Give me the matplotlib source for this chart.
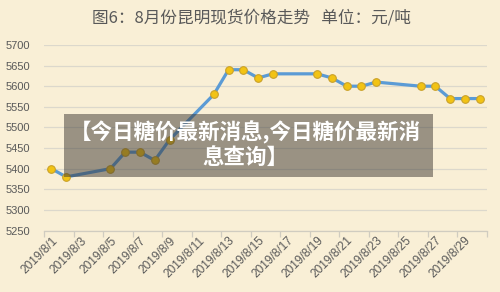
import matplotlib
matplotlib.use("Agg")
import matplotlib.pyplot as plt
from matplotlib.patches import Rectangle
import numpy as np

# ---- data ----
dates = [f"2019/8/{d}" for d in range(1, 31)]
prices = [5400, 5380, None, None, 5400, 5440, 5440, 5420, 5470, None,
          None, 5580, 5640, 5640, 5620, 5630, None, None, 5630, 5620,
          5600, 5600, 5610, None, None, 5600, 5600, 5570, 5570, 5570]
yticks = list(range(5250, 5701, 50))
title = "图6：8月份昆明现货价格走势   单位：元/吨"
overlay_lines = ["【今日糖价最新消息,今日糖价最新消", "息查询】"]

bg = "#f9efd6"
fig = plt.figure(figsize=(5.0, 2.92), dpi=100, facecolor=bg)
ax = fig.add_axes([0.088, 0.2106, 0.886, 0.6354], facecolor=bg)

idx = [i for i, v in enumerate(prices) if v is not None]
vals = [prices[i] for i in idx]
ax.plot(idx, vals, color="#5b9bd5", lw=2.3, solid_joinstyle="round",
        marker="o", ms=5.5, mfc="#f2c314", mec="#caa12a", mew=0.8, zorder=3)

ax.set_xlim(-0.5, len(dates) - 0.5)
ax.set_ylim(yticks[0], yticks[-1])
ax.set_yticks(yticks)
ax.set_yticklabels([str(t) for t in yticks], fontsize=8, color="#595959",
                   family=["Liberation Sans", "DejaVu Sans"])
ax.tick_params(axis="y", length=0, pad=10)
ax.grid(axis="y", color="#dcd8cc", lw=0.9)
ax.set_axisbelow(True)

ax.set_xticks(np.arange(-0.5, len(dates), 2))
ax.set_xticklabels([])
ax.set_xticks(range(0, len(dates), 2), minor=True)
ax.set_xticklabels(dates[::2], minor=True, rotation=45, ha="right", va="top",
                   rotation_mode="anchor", fontsize=8.6, color="#595959",
                   family=["Liberation Sans", "DejaVu Sans"])
ax.tick_params(axis="x", which="major", length=4, color="#d0ccc0", width=0.9)
ax.tick_params(axis="x", which="minor", length=0, pad=3)
for s in ["top", "right", "left"]:
    ax.spines[s].set_visible(False)
ax.spines["bottom"].set_color("#d0ccc0")
ax.spines["bottom"].set_linewidth(0.9)

fig.text(0.503, 1 - 18 / 292, title, ha="center", va="center", fontsize=12,
         color="#595959", family=["Noto Sans CJK SC", "DejaVu Sans"])

# overlay banner (pixel coords -> figure fraction)
W, H = 500, 292
x0, x1, y0, y1 = 64, 433, 114, 177
fig.patches.append(Rectangle((x0 / W, 1 - y1 / H), (x1 - x0) / W, (y1 - y0) / H,
                             transform=fig.transFigure, facecolor=(0.235, 0.215, 0.196),
                             alpha=0.5, edgecolor="none", zorder=10))
fig.text(245 / W, 1 - 132 / H, overlay_lines[0], ha="center", va="center",
         fontsize=15.5, fontweight="bold", color="white", zorder=11,
         family=["Noto Sans CJK SC", "DejaVu Sans"])
fig.text(245 / W, 1 - 157 / H, overlay_lines[1], ha="center", va="center",
         fontsize=15.5, fontweight="bold", color="white", zorder=11,
         family=["Noto Sans CJK SC", "DejaVu Sans"])

fig.savefig("out.png", dpi=100, facecolor=bg)
